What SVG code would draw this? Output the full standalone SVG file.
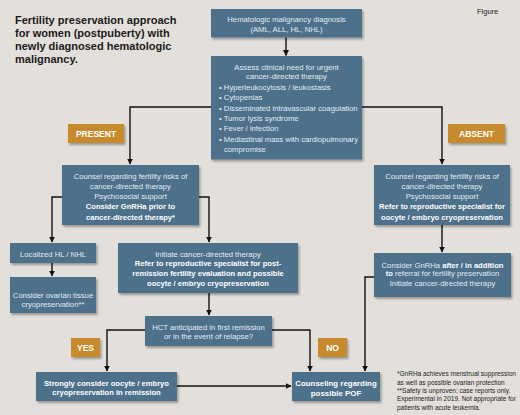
<svg xmlns="http://www.w3.org/2000/svg" width="520" height="415" viewBox="0 0 520 415">
<defs>
<filter id="sh" x="-10%" y="-10%" width="130%" height="140%">
<feDropShadow dx="1.5" dy="2" stdDeviation="1.3" flood-color="#000" flood-opacity="0.32"/>
</filter>
<marker id="ah" viewBox="0 0 10 10" refX="9" refY="5" markerWidth="6" markerHeight="6" markerUnits="userSpaceOnUse" orient="auto">
<path d="M0,0 L10,5 L0,10 z" fill="#111"/>
</marker>
<style>
.box{fill:#4e6f8b;filter:url(#sh)}
.lab{fill:#c78b2f;filter:url(#sh)}
.t{font-family:"Liberation Sans",Arial,sans-serif;font-size:7.7px;fill:#e3ebf2;text-anchor:middle}
.tl{text-anchor:start}
.b{font-weight:bold;font-size:7.6px;fill:#fff}
.bb{font-weight:bold;font-size:7.9px;fill:#fff}
.lt{font-family:"Liberation Sans",Arial,sans-serif;font-weight:bold;font-size:8.5px;fill:#fff;text-anchor:middle}
.ttl{font-family:"Liberation Sans",Arial,sans-serif;font-weight:bold;font-size:11px;fill:#1a1a1a}
.fn{font-family:"Liberation Sans",Arial,sans-serif;font-size:6.5px;fill:#222}
.c{fill:none;stroke:#111;stroke-width:1.4;marker-end:url(#ah)}
</style>
</defs>
<rect width="520" height="415" fill="#e3e0db"/>
<g id="title">
<text class="ttl" x="15" y="24">Fertility preservation approach</text>
<text class="ttl" x="15" y="37">for women (postpuberty) with</text>
<text class="ttl" x="15" y="50">newly diagnosed hematologic</text>
<text class="ttl" x="15" y="63">malignancy.</text>
</g>
<text x="477" y="14" font-family="Liberation Sans,Arial,sans-serif" font-size="7.5" fill="#222">Figure</text>
<g id="connectors">
<path class="c" d="M286,37.5 V55.5"/>
<path class="c" d="M211,107 H130 V164"/>
<path class="c" d="M362,107 H442 V164"/>
<path class="c" d="M62,197 H52 V242"/>
<path class="c" d="M199,197 H209 V242"/>
<path class="c" d="M52,263 V276"/>
<path class="c" d="M209,293 V315"/>
<path class="c" d="M145,330 H107 V371"/>
<path class="c" d="M272,330 H310 V371"/>
<path class="c" d="M177,386 H291"/>
<path class="c" d="M442,225 V252"/>
<path class="c" d="M374,277 H365 V371"/>
</g>
<g id="n-diagnosis">
<rect class="box" x="211" y="9" width="151" height="28.5"/>
<text class="t" x="286.5" y="22">Hematologic malignancy diagnosis</text>
<text class="t" x="286.5" y="31.7">(AML, ALL, HL, NHL)</text>
</g>
<g id="n-assess">
<rect class="box" x="211" y="56" width="151" height="103.5"/>
<text class="t" x="286.5" y="69.5">Assess clinical need for urgent</text>
<text class="t" x="286.5" y="79">cancer-directed therapy</text>
<text class="t tl" x="219" y="89.8">• Hyperleukocytosis / leukostasis</text>
<text class="t tl" x="219" y="100.3">• Cytopenias</text>
<text class="t tl" x="219" y="110.8">• Disseminated intravascular coagulation</text>
<text class="t tl" x="219" y="121">• Tumor lysis syndrome</text>
<text class="t tl" x="219" y="131.3">• Fever / infection</text>
<text class="t tl" x="219" y="141.8">• Mediastinal mass with cardiopulmonary</text>
<text class="t tl" x="224" y="151.8">compromise</text>
</g>
<g id="l-present">
<rect class="lab" x="68" y="124" width="56" height="19"/>
<text class="lt" x="96" y="136.5">PRESENT</text>
</g>
<g id="l-absent">
<rect class="lab" x="448" y="124" width="57" height="19"/>
<text class="lt" x="476.5" y="136.5">ABSENT</text>
</g>
<g id="n-counsel-left">
<rect class="box" x="62" y="165" width="137" height="60"/>
<text class="t" x="130.5" y="178.8">Counsel regarding fertility risks of</text>
<text class="t" x="130.5" y="188.8">cancer-directed therapy</text>
<text class="t" x="130.5" y="198.8">Psychosocial support</text>
<text class="t b" x="130.5" y="209">Consider GnRHa prior to</text>
<text class="t b" x="130.5" y="219.5">cancer-directed therapy*</text>
</g>
<g id="n-counsel-right">
<rect class="box" x="374" y="165" width="136" height="60"/>
<text class="t" x="442" y="178.8">Counsel regarding fertility risks of</text>
<text class="t" x="442" y="188.8">cancer-directed therapy</text>
<text class="t" x="442" y="198.8">Psychosocial support</text>
<text class="t b" x="442" y="209">Refer to reproductive specialist for</text>
<text class="t b" x="442" y="219.5">oocyte / embryo cryopreservation</text>
</g>
<g id="n-localized">
<rect class="box" x="10" y="243" width="86" height="20"/>
<text class="t" x="53" y="256.5">Localized HL / NHL</text>
</g>
<g id="n-ovarian">
<rect class="box" x="10" y="277" width="86" height="36"/>
<text class="t" x="53" y="297.5">Consider ovarian tissue</text>
<text class="t" x="53" y="306.5">cryopreservation**</text>
</g>
<g id="n-initiate">
<rect class="box" x="118" y="243" width="180" height="50"/>
<text class="t" x="208" y="256.5">Initiate cancer-directed therapy</text>
<text class="t b" x="208" y="266">Refer to reproductive specialist for post-</text>
<text class="t b" x="208" y="276">remission fertility evaluation and possible</text>
<text class="t b" x="208" y="286">oocyte / embryo cryopreservation</text>
</g>
<g id="n-hct">
<rect class="box" x="145" y="316" width="127" height="30"/>
<text class="t" x="208.5" y="329.5">HCT anticipated in first remission</text>
<text class="t" x="208.5" y="339">or in the event of relapse?</text>
</g>
<g id="l-yes">
<rect class="lab" x="71" y="338" width="29" height="19"/>
<text class="lt" x="85.5" y="350.5">YES</text>
</g>
<g id="l-no">
<rect class="lab" x="318" y="338" width="29" height="19"/>
<text class="lt" x="332.5" y="350.5">NO</text>
</g>
<g id="n-gnrha">
<rect class="box" x="374" y="253" width="137" height="44"/>
<text class="t" x="442.5" y="267.5">Consider GnRHa <tspan class="b">after / in addition</tspan></text>
<text class="t" x="442.5" y="276.3"><tspan class="b">to</tspan> referral for fertility preservation</text>
<text class="t" x="442.5" y="285.8">Initiate cancer-directed therapy</text>
</g>
<g id="n-strongly">
<rect class="box" x="36" y="372" width="141" height="29"/>
<text class="t b" x="106.5" y="385.8">Strongly consider oocyte / embryo</text>
<text class="t b" x="106.5" y="395">cryopreservation in remission</text>
</g>
<g id="n-counseling">
<rect class="box" x="292" y="372" width="88" height="29"/>
<text class="t bb" x="336" y="386">Counseling regarding</text>
<text class="t bb" x="336" y="395.5">possible POF</text>
</g>
<g id="footnote">
<text class="fn" x="397" y="376.3">*GnRHa achieves menstrual suppression</text>
<text class="fn" x="397" y="384.8">as well as possible ovarian protection</text>
<text class="fn" x="397" y="393.2">**Safety is unproven; case reports only.</text>
<text class="fn" x="397" y="401.3">Experimental in 2019. Not appropriate for</text>
<text class="fn" x="397" y="409.5">patients with acute leukemia.</text>
</g>
</svg>
